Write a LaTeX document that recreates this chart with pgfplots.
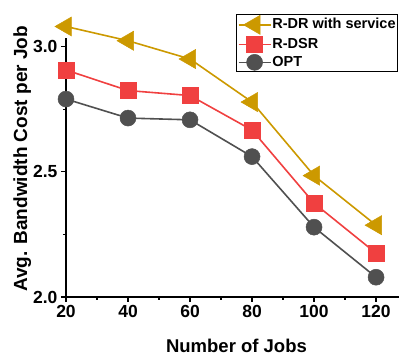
\documentclass[border=0pt]{standalone}
\usepackage{pgfplots}
\pgfplotsset{compat=1.18}
\usepackage{fontspec}
\setmainfont{Liberation Sans}
\definecolor{cgold}{RGB}{204,153,0}
\definecolor{cred}{RGB}{240,64,64}
\definecolor{cgray}{RGB}{80,80,80}
\begin{document}
\begin{tikzpicture}
\begin{axis}[
 at={(0,0)}, anchor=south west,
 scale only axis, width=333pt, height=259pt,
 xmin=20, xmax=127.4, ymin=2.0, ymax=3.035,
 clip=false,
 axis x line*=bottom, axis y line*=left,
 axis line style={line width=1.2pt, -},
 xtick={20,40,...,120}, minor xtick={30,50,...,110},
 ytick={2.0,2.5,3.0}, minor ytick={2.25,2.75},
 tick align=outside, major tick length=5pt, minor tick length=3pt,
 every tick/.style={black, line width=1.2pt},
 yticklabel style={/pgf/number format/.cd, fixed, fixed zerofill, precision=1},
 /pgf/number format/assume math mode=true,
 tick label style={font=\fontsize{17.5}{20}\selectfont\bfseries},
 xlabel={Number of Jobs}, ylabel={Avg. Bandwidth Cost per Job},
 xlabel style={font=\fontsize{18.5}{21}\selectfont\bfseries, at={(axis description cs:0.512,-0.2124)}, anchor=base},
 ylabel style={font=\fontsize{19}{21}\selectfont\bfseries, at={(axis description cs:-0.117,0.533)}, anchor=base},
 legend style={at={(axis description cs:0.997,1.093)}, anchor=north east, draw=black, line width=0.8pt,
   font=\fontsize{14.5}{16}\selectfont\bfseries, row sep=2pt, inner sep=1pt,
   nodes={inner sep=1pt, text height=11pt, text depth=3pt}},
 legend cell align=left,
 legend image code/.code={\draw[mark repeat=2,mark phase=2] plot coordinates {(0cm,0cm) (0.56cm,0cm) (1.12cm,0cm)};},
]
\addplot[cgold, line width=1.6pt, mark=triangle*, mark size=11pt, mark options={rotate=90, fill=cgold, line width=0.5pt}]
 coordinates {(20,3.081) (40,3.024) (60,2.951) (80,2.779) (100,2.485) (120,2.287)};
\addlegendentry{R-DR with service}
\addplot[cred, line width=1.6pt, mark=square*, mark size=8pt, mark options={fill=cred, line width=0.5pt}]
 coordinates {(20,2.907) (40,2.825) (60,2.805) (80,2.667) (100,2.375) (120,2.175)};
\addlegendentry{R-DSR}
\addplot[cgray, line width=1.6pt, mark=*, mark size=8pt, mark options={fill=cgray, line width=0.5pt}]
 coordinates {(20,2.791) (40,2.715) (60,2.708) (80,2.561) (100,2.279) (120,2.079)};
\addlegendentry{OPT}
\end{axis}
\pgfresetboundingbox
\useasboundingbox (-66pt,-58pt) rectangle (333pt,297pt);
\end{tikzpicture}
\end{document}
